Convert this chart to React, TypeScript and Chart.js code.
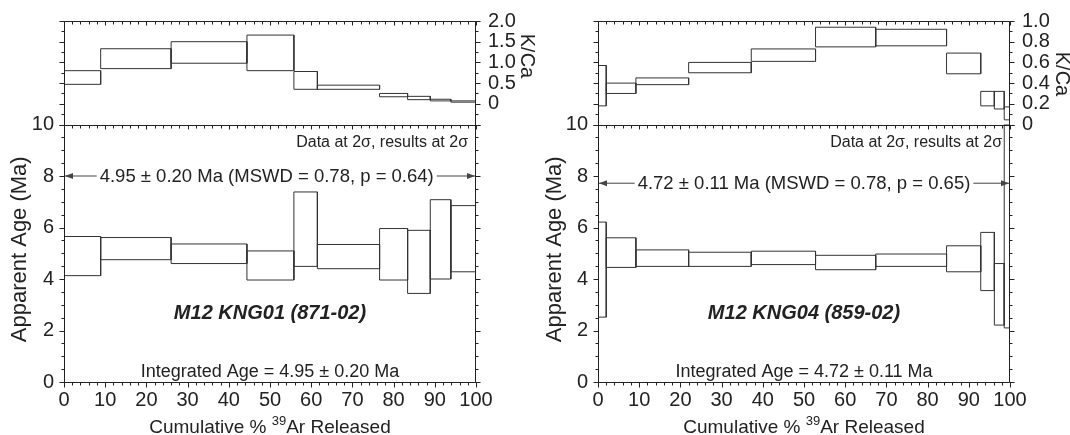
import React, { useEffect, useRef } from 'react';
import { Chart, registerables } from 'chart.js';

Chart.register(...registerables);

const FONT = '"Liberation Sans", Arial, Helvetica, sans-serif';
const INK = '#222222';
const BOX = '#333333';

// ---------- Panel 1 : M12 KNG01 (871-02) ----------
const stepEdgesA = [0, 8.9, 26.0, 44.4, 55.8, 61.5, 76.6, 83.4, 88.9, 93.9, 100];
const ageLowA = [4.13, 4.75, 4.6, 3.96, 4.49, 4.4, 3.96, 3.44, 4.0, 4.28];
const ageHighA = [5.65, 5.61, 5.36, 5.09, 7.38, 5.34, 5.96, 5.89, 7.08, 6.85];
const kcaLowA = [0.47, 0.85, 0.98, 0.8, 0.35, 0.35, 0.17, 0.1, 0.07, 0.04];
const kcaHighA = [0.8, 1.33, 1.5, 1.66, 0.78, 0.45, 0.25, 0.18, 0.11, 0.07];
const plateauAgeA = [8.0];
const sampleA = 'M12 KNG01 (871-02)';
const plateauTextA = '4.95 ± 0.20 Ma (MSWD = 0.78, p = 0.64)';
const integratedA = 'Integrated Age = 4.95 ± 0.20 Ma';
const kcaRangeA = [-0.5, 2.0];
const kcaStepA = [0.5, 0.25];

// ---------- Panel 2 : M12 KNG04 (859-02) ----------
const stepEdgesB = [0, 2.0, 9.2, 22.0, 37.2, 52.8, 67.4, 84.6, 92.9, 96.2, 98.6, 100];
const ageLowB = [2.52, 4.45, 4.49, 4.49, 4.56, 4.36, 4.49, 4.28, 3.55, 2.21, 2.1];
const ageHighB = [6.21, 5.6, 5.13, 5.04, 5.08, 4.92, 4.97, 5.29, 5.81, 4.6, 10.0];
const kcaLowB = [0.18, 0.3, 0.385, 0.5, 0.61, 0.75, 0.76, 0.49, 0.18, 0.15, 0.045];
const kcaHighB = [0.57, 0.4, 0.45, 0.6, 0.73, 0.94, 0.92, 0.69, 0.32, 0.32, 0.17];
const plateauAgeB = [7.72];
const sampleB = 'M12 KNG04 (859-02)';
const plateauTextB = '4.72 ± 0.11 Ma (MSWD = 0.78, p = 0.65)';
const integratedB = 'Integrated Age = 4.72 ± 0.11 Ma';
const kcaRangeB = [0, 1.0];
const kcaStepB = [0.2, 0.1];

// shared axes
const ageRange = [0, 10];
const ageStep = [2, 0.5];
const xRange = [0, 100];
const xStep = [10, 2];
const dataNote = 'Data at 2σ, results at 2σ';
const ageTitle = 'Apparent Age (Ma)';
const kcaTitle = 'K/Ca';
const xTitleParts = ['Cumulative % ', '39', 'Ar Released'];

type PanelCfg = {
  edges: number[];
  ageLo: number[];
  ageHi: number[];
  kLo: number[];
  kHi: number[];
  plateau: number[];
  sample: string;
  plateauText: string;
  integrated: string;
  kRange: number[];
  kStep: number[];
  leftW: number;
  rightW: number;
  kTitleY: number;
  plateauCx: number;
};

function boxData(edges: number[], lo: number[], hi: number[]) {
  return lo.map((l, i) => [
    { x: edges[i], y: l },
    { x: edges[i], y: hi[i] },
    { x: edges[i + 1], y: hi[i] },
    { x: edges[i + 1], y: l },
    { x: edges[i], y: l },
  ]);
}

function fmtK(v: number) {
  if (v < -1e-9) return '';
  if (Math.abs(v) < 1e-9) return '0';
  return Number(v).toFixed(1);
}

function makePlugin(cfg: PanelCfg) {
  const ticksY = (ctx: any, scale: any, x: number, dir: number, step: number[]) => {
    const n = Math.round((scale.max - scale.min) / step[1]);
    for (let i = 0; i <= n; i++) {
      const v = scale.min + i * step[1];
      const isMaj = Math.abs(v / step[0] - Math.round(v / step[0])) < 1e-6;
      const y = Math.round(scale.getPixelForValue(v)) + 0.5;
      ctx.moveTo(x, y);
      ctx.lineTo(x + dir * (isMaj ? 5 : 3), y);
    }
  };
  const ticksX = (ctx: any, scale: any, y: number, dir: number, majL: number, minL: number) => {
    const n = Math.round((scale.max - scale.min) / xStep[1]);
    for (let i = 0; i <= n; i++) {
      const v = scale.min + i * xStep[1];
      const isMaj = Math.abs(v / xStep[0] - Math.round(v / xStep[0])) < 1e-6;
      const x = Math.round(scale.getPixelForValue(v)) + 0.5;
      ctx.moveTo(x, y);
      ctx.lineTo(x, y + dir * (isMaj ? majL : minL));
    }
  };
  return {
    id: 'arDecor',
    afterDatasetsDraw(chart: any) {
      const ctx = chart.ctx;
      const a = chart.chartArea;
      const xs = chart.scales.x;
      const ya = chart.scales.yAge;
      const yk = chart.scales.yK;
      const yar = chart.scales.yAgeR;
      const ykr = chart.scales.yKR;
      ctx.save();

      // plateau label with white gap and arrow heads
      const py = ya.getPixelForValue(cfg.plateau[0]);
      const x0 = xs.getPixelForValue(xRange[0]);
      const x1 = xs.getPixelForValue(xRange[1]);
      ctx.font = `18.5px ${FONT}`;
      const tw = ctx.measureText(cfg.plateauText).width;
      const cx = xs.getPixelForValue(cfg.plateauCx);
      ctx.fillStyle = '#ffffff';
      ctx.fillRect(cx - tw / 2 - 3, py - 10, tw + 6, 20);
      ctx.fillStyle = INK;
      ctx.textAlign = 'center';
      ctx.textBaseline = 'middle';
      ctx.fillText(cfg.plateauText, cx, py + 1);
      ctx.fillStyle = '#444';
      ctx.beginPath();
      ctx.moveTo(x0 + 1, py);
      ctx.lineTo(x0 + 9, py - 3);
      ctx.lineTo(x0 + 9, py + 3);
      ctx.closePath();
      ctx.moveTo(x1 - 1, py);
      ctx.lineTo(x1 - 9, py - 3);
      ctx.lineTo(x1 - 9, py + 3);
      ctx.closePath();
      ctx.fill();

      // frame
      ctx.strokeStyle = INK;
      ctx.lineWidth = 1;
      const L = Math.round(a.left) + 0.5;
      const R = Math.round(a.right) - 0.5;
      const T = Math.round(a.top) + 0.5;
      const B = Math.round(a.bottom) + 0.5;
      const S = Math.round(ya.top) + 0.5;
      ctx.beginPath();
      ctx.moveTo(L, T); ctx.lineTo(R, T); ctx.lineTo(R, B); ctx.lineTo(L, B); ctx.closePath();
      ctx.moveTo(L, S); ctx.lineTo(R, S);
      // ticks
      ticksY(ctx, ya, L, -1, ageStep);
      ticksY(ctx, yk, L, -1, cfg.kStep);
      ticksY(ctx, yar, R, 1, ageStep);
      ticksY(ctx, ykr, R, 1, cfg.kStep);
      ticksX(ctx, xs, B, 1, 5, 3);
      ticksX(ctx, xs, T, 1, 4, 3);
      ticksX(ctx, xs, S, 1, 4, 3);
      ctx.stroke();

      // texts
      ctx.fillStyle = INK;
      ctx.textAlign = 'right';
      ctx.textBaseline = 'middle';
      ctx.font = `16px ${FONT}`;
      ctx.fillText(dataNote, a.right - 8, ya.top + 18);

      ctx.textAlign = 'center';
      ctx.font = `italic bold 20px ${FONT}`;
      ctx.fillText(cfg.sample, xs.getPixelForValue(50), ya.getPixelForValue(2.66));
      ctx.font = `18px ${FONT}`;
      ctx.fillText(cfg.integrated, xs.getPixelForValue(50), ya.getPixelForValue(0.38));

      // y title
      ctx.save();
      ctx.font = `22px ${FONT}`;
      ctx.translate(20, (ya.top + ya.bottom) / 2 - 4);
      ctx.rotate(-Math.PI / 2);
      ctx.fillText(ageTitle, 0, 0);
      ctx.restore();

      // K/Ca title
      ctx.save();
      ctx.font = `20px ${FONT}`;
      ctx.translate(chart.width - 8, cfg.kTitleY);
      ctx.rotate(Math.PI / 2);
      ctx.fillText(kcaTitle, 0, 0);
      ctx.restore();

      // x title with superscript
      ctx.font = `19px ${FONT}`;
      const p0 = ctx.measureText(xTitleParts[0]).width;
      const p2 = ctx.measureText(xTitleParts[2]).width;
      ctx.font = `13px ${FONT}`;
      const p1 = ctx.measureText(xTitleParts[1]).width;
      const total = p0 + p1 + p2;
      let tx = (a.left + a.right) / 2 - total / 2;
      const ty = a.bottom + 44;
      ctx.textAlign = 'left';
      ctx.textBaseline = 'alphabetic';
      ctx.font = `19px ${FONT}`;
      ctx.fillText(xTitleParts[0], tx, ty + 7);
      tx += p0;
      ctx.font = `13px ${FONT}`;
      ctx.fillText(xTitleParts[1], tx, ty - 1);
      tx += p1;
      ctx.font = `19px ${FONT}`;
      ctx.fillText(xTitleParts[2], tx, ty + 7);

      ctx.restore();
    },
  };
}

function buildConfig(cfg: PanelCfg): any {
  const ageBoxes = boxData(cfg.edges, cfg.ageLo, cfg.ageHi).map((d) => ({
    data: d, yAxisID: 'yAge', showLine: true, borderColor: BOX, borderWidth: 1,
    pointRadius: 0, fill: false, tension: 0,
  }));
  const kBoxes = boxData(cfg.edges, cfg.kLo, cfg.kHi).map((d) => ({
    data: d, yAxisID: 'yK', showLine: true, borderColor: BOX, borderWidth: 1,
    pointRadius: 0, fill: false, tension: 0,
  }));
  const plateauLine = {
    data: [{ x: xRange[0], y: cfg.plateau[0] }, { x: xRange[1], y: cfg.plateau[0] }],
    yAxisID: 'yAge', showLine: true, borderColor: '#444', borderWidth: 1,
    pointRadius: 0, fill: false,
  };
  const tickFont = { family: FONT, size: 20 };
  const hidden = { display: false, drawTicks: false };
  const noPadV = (w: number) => (s: any) => { s.width = w; s.paddingTop = 0; s.paddingBottom = 0; };
  return {
    type: 'scatter',
    data: { datasets: [plateauLine, ...kBoxes, ...ageBoxes] },
    options: {
      responsive: false,
      animation: false,
      events: [],
      layout: { padding: { top: 21, left: 0, right: 0, bottom: 0 } },
      plugins: { legend: { display: false }, tooltip: { enabled: false }, title: { display: false } },
      scales: {
        x: {
          type: 'linear', position: 'bottom', min: xRange[0], max: xRange[1],
          grid: hidden, border: { display: false },
          ticks: { stepSize: xStep[0], font: tickFont, color: INK, padding: 6, maxRotation: 0, autoSkip: false },
          afterFit: (s: any) => { s.height = 53; s.paddingLeft = 0; s.paddingRight = 0; },
        },
        yAge: {
          type: 'linear', position: 'left', stack: 'left', stackWeight: 257.5, weight: 1,
          min: ageRange[0], max: ageRange[1],
          grid: hidden, border: { display: false },
          ticks: { stepSize: ageStep[0], font: tickFont, color: INK, padding: 10, autoSkip: false },
          afterFit: noPadV(cfg.leftW),
        },
        yK: {
          type: 'linear', position: 'left', stack: 'left', stackWeight: 103.5, weight: 2,
          min: cfg.kRange[0], max: cfg.kRange[1],
          grid: hidden, border: { display: false },
          ticks: { display: false, stepSize: cfg.kStep[0] },
          afterFit: noPadV(cfg.leftW),
        },
        yAgeR: {
          type: 'linear', position: 'right', stack: 'right', stackWeight: 257.5, weight: 2,
          min: ageRange[0], max: ageRange[1],
          grid: hidden, border: { display: false },
          ticks: { display: false, stepSize: ageStep[0] },
          afterFit: noPadV(cfg.rightW),
        },
        yKR: {
          type: 'linear', position: 'right', stack: 'right', stackWeight: 103.5, weight: 1,
          min: cfg.kRange[0], max: cfg.kRange[1],
          grid: hidden, border: { display: false },
          ticks: {
            stepSize: cfg.kStep[0], font: tickFont, color: INK, padding: 12, autoSkip: false,
            callback: (v: any) => fmtK(Number(v)),
          },
          afterFit: noPadV(cfg.rightW),
        },
      },
    },
    plugins: [makePlugin(cfg)],
  };
}

const panelA: PanelCfg = {
  edges: stepEdgesA, ageLo: ageLowA, ageHi: ageHighA, kLo: kcaLowA, kHi: kcaHighA,
  plateau: plateauAgeA, sample: sampleA, plateauText: plateauTextA, integrated: integratedA,
  kRange: kcaRangeA, kStep: kcaStepA, leftW: 64, rightW: 59, kTitleY: 56, plateauCx: 49.2,
};
const panelB: PanelCfg = {
  edges: stepEdgesB, ageLo: ageLowB, ageHi: ageHighB, kLo: kcaLowB, kHi: kcaHighB,
  plateau: plateauAgeB, sample: sampleB, plateauText: plateauTextB, integrated: integratedB,
  kRange: kcaRangeB, kStep: kcaStepB, leftW: 63, rightW: 60, kTitleY: 74, plateauCx: 50,
};

function Panel({ cfg, left }: { cfg: PanelCfg; left: number }) {
  const ref = useRef<HTMLCanvasElement | null>(null);
  useEffect(() => {
    if (!ref.current) return;
    const chart = new Chart(ref.current, buildConfig(cfg));
    return () => chart.destroy();
  }, [cfg]);
  return (
    <div style={{ position: 'absolute', left, top: 0, width: 535, height: 435 }}>
      <canvas ref={ref} width={535} height={435} style={{ width: 535, height: 435, display: 'block' }} />
    </div>
  );
}

export default function App() {
  return (
    <div style={{ position: 'absolute', left: 0, top: 0, width: 1070, height: 435, background: '#ffffff', overflow: 'hidden' }}>
      <Panel cfg={panelA} left={0} />
      <Panel cfg={panelB} left={535} />
    </div>
  );
}
